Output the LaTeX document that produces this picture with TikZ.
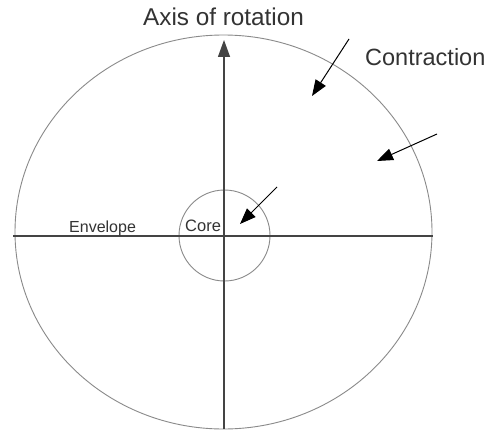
\documentclass[tikz,border=0pt]{standalone}
\usepackage{fontspec}
\setmainfont{Liberation Sans}
\usetikzlibrary{arrows.meta}
\definecolor{txt}{HTML}{333333}
\definecolor{axisline}{HTML}{444444}
\definecolor{rim}{HTML}{8A8A8A}
\tikzset{
  lbl/.style={text=txt, inner sep=0pt, anchor=base west},
  axisln/.style={draw=axisline, line width=1.3pt},
  rimln/.style={draw=rim, line width=0.9pt},
  contr/.style={draw=black, line width=1pt, -{Triangle[length=16pt,width=12pt]}},
}
\begin{document}
\begin{tikzpicture}[x=1pt,y=1pt]
\useasboundingbox (0,0) rectangle (484,432);
\fill[white] (0,0) rectangle (484,432);
% envelope and core
\draw[rimln] (223.5,200) ellipse [x radius=208.5, y radius=197];
\draw[rimln] (224.5,196.5) circle [radius=45.5];
% axes
\coordinate (hl) at (13,196);
\coordinate (hr) at (433,196);
\coordinate (vb) at (224,3);
\coordinate (vt) at (224,392);
\draw[axisln] (hl) -- (hr);
\draw[axisln, -{Triangle[length=17pt,width=12pt]}] (vb) -- (vt);
% labels
\node[lbl, font=\fontsize{24.3}{26}\selectfont] (axis) at (143,406) {Axis of rotation};
\node[lbl, font=\fontsize{23.5}{26}\selectfont] (contr) at (365,366) {Contraction};
\node[lbl, font=\fontsize{16}{18}\selectfont] (env) at (69,200) {Envelope};
\node[lbl, font=\fontsize{16.5}{18}\selectfont] (core) at (185,201) {Core};
% contraction arrows
\coordinate (a1s) at (349,393);
\coordinate (a1e) at (312,336);
\coordinate (a2s) at (437,298);
\coordinate (a2e) at (377,271);
\coordinate (a3s) at (277,245);
\coordinate (a3e) at (240,208);
\draw[contr] (a1s) -- (a1e);
\draw[contr] (a2s) -- (a2e);
\draw[contr] (a3s) -- (a3e);
\end{tikzpicture}
\end{document}
